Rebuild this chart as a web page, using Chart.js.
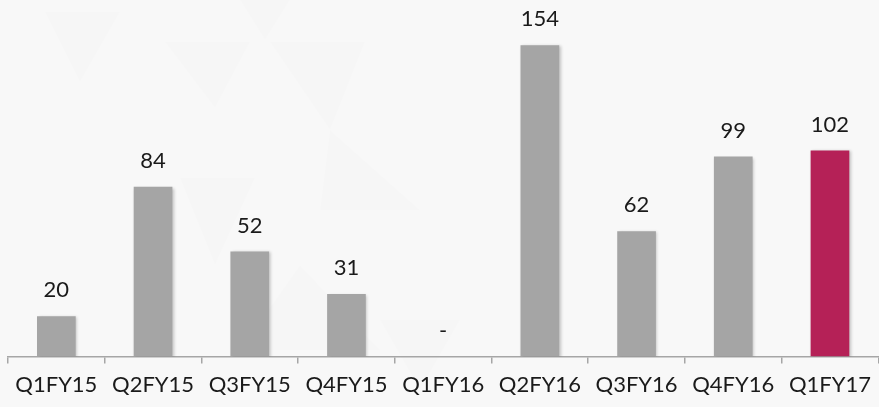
<!DOCTYPE html>
<html>
<head>
<meta charset="utf-8">
<script src="https://cdn.jsdelivr.net/npm/chart.js@4.4.1/dist/chart.umd.min.js"></script>
<style>
  html, body { margin: 0; padding: 0; background: #f8f8f8; }
  #wrap { width: 879px; height: 407px; }
</style>
</head>
<body>
<div id="wrap"><canvas id="quarterChart" width="879" height="407"></canvas></div>
<script>
// quarterly figures
const quarters = ['Q1FY15', 'Q2FY15', 'Q3FY15', 'Q4FY15', 'Q1FY16', 'Q2FY16', 'Q3FY16', 'Q4FY16', 'Q1FY17'];
const values = [20, 84, 52, 31, 0, 154, 62, 99, 102];
const barColors = ['#a5a5a5', '#a5a5a5', '#a5a5a5', '#a5a5a5', '#a5a5a5', '#a5a5a5', '#a5a5a5', '#a5a5a5', '#b52157'];

const FONT = 'Lato, "Open Sans", sans-serif';

// faint triangle pattern behind the chart
const backdrop = {
    id: 'backdrop',
    beforeDraw(chart) {
        const ctx = chart.ctx;
        ctx.save();
        ctx.fillStyle = '#f8f8f8';
        ctx.fillRect(0, 0, chart.width, chart.height);
        ctx.fillStyle = 'rgba(0,0,0,0.008)';
        const tris = [
            [[45, 12], [120, 12], [80, 82]],
            [[165, 42], [250, 42], [215, 108]],
            [[240, 0], [290, 0], [265, 40]],
            [[270, 42], [365, 42], [330, 130]],
            [[330, 130], [420, 210], [320, 210]],
            [[180, 178], [255, 178], [215, 265]],
            [[300, 265], [380, 350], [240, 350]],
            [[380, 320], [460, 320], [420, 390]]
        ];
        tris.forEach(t => {
            ctx.beginPath();
            ctx.moveTo(t[0][0], t[0][1]);
            ctx.lineTo(t[1][0], t[1][1]);
            ctx.lineTo(t[2][0], t[2][1]);
            ctx.closePath();
            ctx.fill();
        });
        ctx.restore();
    }
};

// soft drop shadow on bars
const barShadow = {
    id: 'barShadow',
    beforeDatasetsDraw(chart) {
        const ctx = chart.ctx;
        ctx.save();
        ctx.shadowColor = 'rgba(0,0,0,0.22)';
        ctx.shadowBlur = 3;
        ctx.shadowOffsetX = 1.5;
        ctx.shadowOffsetY = 1;
    },
    afterDatasetsDraw(chart) {
        chart.ctx.restore();
    }
};

// value labels above each bar, "-" for zero
const valueLabels = {
    id: 'valueLabels',
    afterDatasetsDraw(chart) {
        const ctx = chart.ctx;
        const meta = chart.getDatasetMeta(0);
        ctx.save();
        ctx.font = '22px ' + FONT;
        ctx.fillStyle = '#1a1a1a';
        ctx.textAlign = 'center';
        ctx.textBaseline = 'middle';
        meta.data.forEach((bar, i) => {
            const v = values[i];
            ctx.fillText(v === 0 ? '-' : String(v), bar.x, bar.y - 26);
        });
        ctx.restore();
    }
};

new Chart(document.getElementById('quarterChart'), {
    type: 'bar',
    data: {
        labels: quarters,
        datasets: [{
            data: values,
            backgroundColor: barColors,
            borderWidth: 0,
            barPercentage: 0.5,
            categoryPercentage: 0.8
        }]
    },
    options: {
        responsive: false,
        animation: false,
        layout: { padding: { left: 8, right: 0, top: 13, bottom: 1 } },
        plugins: { legend: { display: false }, tooltip: { enabled: false } },
        scales: {
            x: {
                grid: {
                    offset: true,
                    drawOnChartArea: false,
                    drawTicks: true,
                    tickLength: 7,
                    color: '#a6a6a6',
                    lineWidth: 1.5
                },
                border: { display: true, color: '#a6a6a6', width: 1.5 },
                ticks: {
                    font: { family: FONT, size: 22 },
                    color: '#1a1a1a',
                    padding: 8,
                    maxRotation: 0,
                    autoSkip: false
                }
            },
            y: {
                display: false,
                min: 0,
                max: 170
            }
        }
    },
    plugins: [backdrop, barShadow, valueLabels]
});
</script>
</body>
</html>
